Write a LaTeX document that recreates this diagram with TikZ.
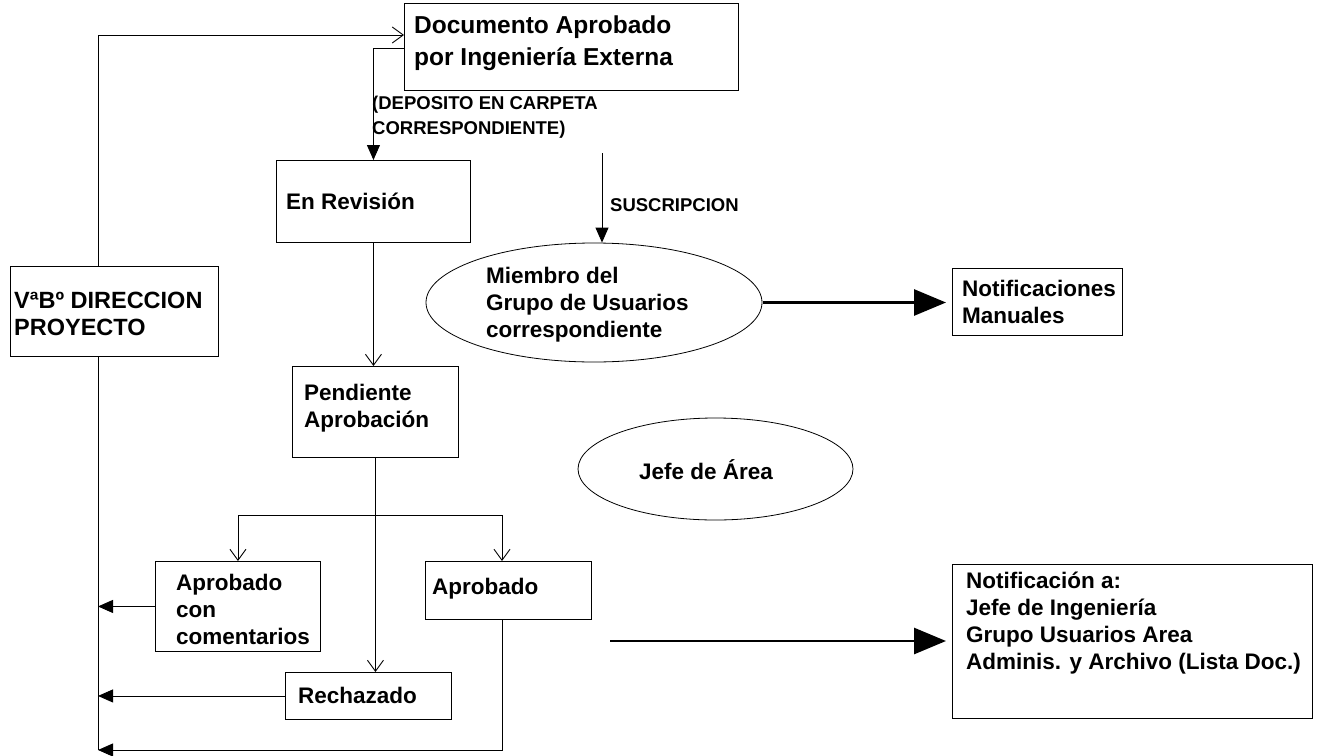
\documentclass[tikz,border=0pt]{standalone}
\usepackage{fontspec}
\setmainfont{Liberation Sans}
\usetikzlibrary{arrows.meta,shapes.geometric}
\begin{document}
\begin{tikzpicture}[x=1pt,y=-1pt,
  box/.style={draw, line width=0.9pt, inner sep=0pt, anchor=north west},
  oval/.style={draw, ellipse, line width=0.8pt, inner sep=0pt},
  lbl/.style={font=\fontsize{22.5}{27}\selectfont\bfseries, align=left, inner sep=0pt, anchor=west},
  tag/.style={font=\fontsize{18.5}{24.5}\selectfont\bfseries, align=left, inner sep=0pt, anchor=west},
  flow/.style={line width=0.9pt},
  barb/.style={flow, -{Straight Barb[length=11pt,width=16pt]}},
  tri/.style={flow, -{Triangle[length=15pt,width=13pt]}},
  heavy/.style={line width=2.8pt, -{Triangle[length=32pt,width=26pt]}}]
\useasboundingbox (0,0) rectangle (1319,755);

% boxes
\node[box, minimum width=334pt, minimum height=87pt] (doc)  at (404,3)   {};
\node[box, minimum width=194pt, minimum height=82pt] (rev)  at (276,160) {};
\node[box, minimum width=208pt, minimum height=90pt] (vb)   at (10,266)  {};
\node[box, minimum width=166pt, minimum height=91pt] (pend) at (292,366) {};
\node[box, minimum width=165pt, minimum height=90pt] (apc)  at (155,561) {};
\node[box, minimum width=166pt, minimum height=58pt] (apr)  at (425,561) {};
\node[box, minimum width=166pt, minimum height=47pt] (rech) at (285,672) {};
\node[box, minimum width=170pt, minimum height=67pt] (notm) at (952,268) {};
\node[box, minimum width=360pt, minimum height=154pt] (nota) at (952,564) {};

% ellipses
\node[oval, minimum width=336pt, minimum height=119pt] (miem) at (594,302.5) {};
\node[oval, minimum width=275pt, minimum height=102pt] (jefe) at (715.5,469) {};

% texts
\node[lbl, font=\fontsize{24.5}{32}\selectfont\bfseries] (docT) at (414,43) {Documento Aprobado\\por Ingeniería Externa};
\node[tag] (depT) at (372,117) {(DEPOSITO EN CARPETA\\CORRESPONDIENTE)};
\node[lbl] (revT) at (286,201) {En Revisión};
\node[tag] (susT) at (610,205) {SUSCRIPCION};
\node[lbl] (miemT) at (486,305) {Miembro del\\Grupo de Usuarios\\correspondiente};
\node[lbl] (notmT) at (962,302) {Notificaciones\\Manuales};
\node[lbl, font=\fontsize{23.5}{27}\selectfont\bfseries] (vbT) at (14,314) {VªBº DIRECCION\\PROYECTO};
\node[lbl] (pendT) at (304,408) {Pendiente\\Aprobación};
\node[lbl, anchor=center] (jefeT) at (706,470) {Jefe de Área};
\node[lbl] (apcT) at (176,609) {Aprobado\\con\\comentarios};
\node[lbl] (aprT) at (432,589) {Aprobado};
\node[lbl] (rechT) at (298,695) {Rechazado};
\node[lbl] (notaT) at (966,623) {Notificación a:\\Jefe de Ingeniería\\Grupo Usuarios Area\\Adminis. y Archivo (Lista Doc.)};

% bus and junction points
\coordinate (busT) at (98,35);
\coordinate (busB) at (98,750);
\coordinate (dep)  at (0,48);
\coordinate (br)   at (0,515);
\coordinate (subs) at (602,153);
\coordinate (aprL) at (502,0);

% connectors
\draw[barb] (vb.north -| busT) |- (doc.west |- busT);
\draw[flow] (vb.south -| busT) -- (busB);
\draw[tri] (doc.west |- dep) -| (rev.north);
\draw[barb] (rev.south) -- (rev.south |- pend.north);
\draw[barb] (pend.south) -- (pend.south |- rech.north);
\draw[barb] (pend.south |- br) -| (apc.north);
\draw[barb] (pend.south |- br) -| (aprL |- apr.north);
\draw[tri] (subs) -- (subs |- miem.north);
\draw[tri] (apc.west) -- (apc.west -| busT);
\draw[tri] (rech.west) -- (rech.west -| busT);
\draw[tri] (aprL |- apr.south) |- (busB);
\draw[heavy] (miem.east) ++(1,0) -- ([xshift=-6pt]notm.west |- miem.east);
\draw[heavy] (610,641) -- ([xshift=-6pt]nota.west |- 0,641);
\end{tikzpicture}
\end{document}
